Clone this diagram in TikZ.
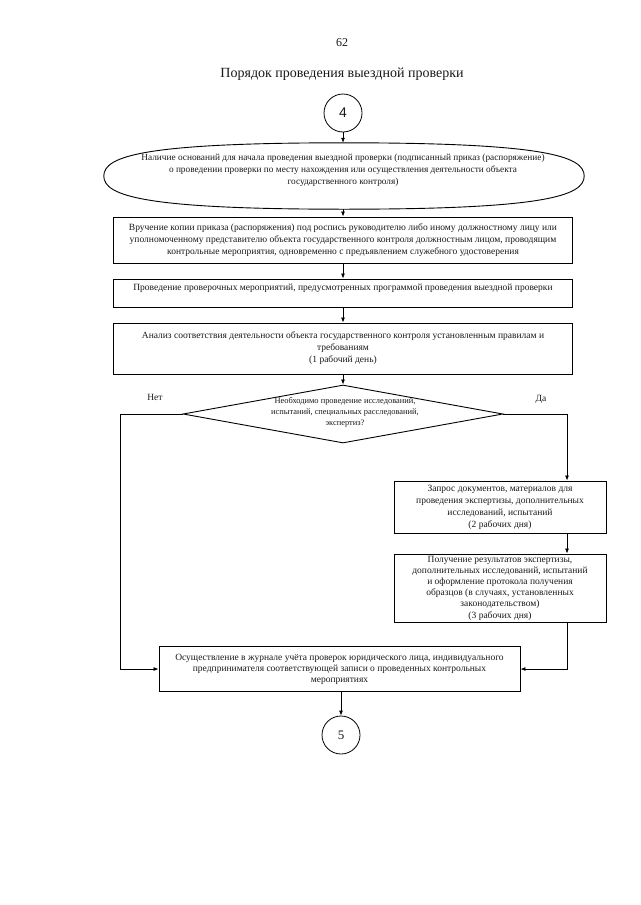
\documentclass[tikz,border=0pt]{standalone}
\usepackage{fontspec}
\setmainfont{Liberation Serif}
\newfontfamily\arialf{Liberation Sans}
\usetikzlibrary{shapes.geometric,arrows.meta}
\begin{document}
\begin{tikzpicture}[x=1pt,y=-1pt,
  every node/.style={text=black!90},
  boxtxt/.style={font=\fontsize{9.5}{12}\selectfont},
  stepbox/.style={draw, rectangle, line width=0.9pt, inner sep=0pt, align=center, boxtxt},
  conn/.style={draw, circle, line width=0.8pt, minimum size=38pt, inner sep=0pt, font=\fontsize{13}{15}\selectfont},
  arr/.style={line width=0.8pt, -{Latex[length=5pt,width=4pt]}},
  ln/.style={line width=0.9pt}]
\useasboundingbox[fill=white] (0,0) rectangle (640,905);

\node[font=\fontsize{12}{14}\selectfont] (pg) at (342,43) {62};
\node[font=\fontsize{14}{16}\selectfont] (title) at (342,74) {Порядок проведения выездной проверки};

\node[conn] (c4) at (343,113) {\arialf\fontsize{14}{16}\selectfont 4};

% oval outline of the first step (pointed ends, full top and bottom)
\node[ellipse, minimum width=480pt, minimum height=66pt, inner sep=0pt] (ell) at (344,176) {};
\draw[ln] (ell.west) .. controls +(0,-20) and +(-200,0) .. (ell.north)
          .. controls +(200,0) and +(0,-20) .. (ell.east)
          .. controls +(0,20) and +(200,0) .. (ell.south)
          .. controls +(-200,0) and +(0,20) .. (ell.west) -- cycle;
\node[align=center, font=\fontsize{9.3}{12}\selectfont] (ellt) at (343,170)
  {Наличие оснований для начала проведения выездной проверки (подписанный приказ (распоряжение)\\
   о проведении проверки по месту нахождения или осуществления деятельности объекта\\
   государственного контроля)};

\node[stepbox, minimum width=459pt, minimum height=46pt] (b2) at (343,240)
  {Вручение копии приказа (распоряжения) под роспись руководителю либо иному должностному лицу или\\
   уполномоченному представителю объекта государственного контроля должностным лицом, проводящим\\
   контрольные мероприятия, одновременно с предъявлением служебного удостоверения};

\node[stepbox, minimum width=459pt, minimum height=28pt] (b3) at (343,293)
  {Проведение проверочных мероприятий, предусмотренных программой проведения выездной проверки\\ \mbox{}};

\node[stepbox, minimum width=459pt, minimum height=51pt] (b4) at (343,348.5)
  {Анализ соответствия деятельности объекта государственного контроля установленным правилам и\\
   требованиям\\
   (1 рабочий день)};

\node[draw, diamond, line width=0.9pt, minimum width=320pt, minimum height=58pt, inner sep=0pt] (d) at (343,414) {};
\node[align=center, font=\fontsize{8.4}{11}\selectfont] (dt) at (345,412)
  {Необходимо проведение исследований,\\
   испытаний, специальных расследований,\\
   экспертиз?};

\node[boxtxt] (no) at (155,397) {Нет};
\node[boxtxt] (yes) at (541,399) {Да};

\node[stepbox, minimum width=212pt, minimum height=52pt] (b6) at (500,507)
  {Запрос документов, материалов для\\
   проведения экспертизы, дополнительных\\
   исследований, испытаний\\
   (2 рабочих дня)};

\node[stepbox, minimum width=212pt, minimum height=68pt, font=\fontsize{9.5}{11.2}\selectfont] (b7) at (500,588)
  {Получение результатов экспертизы,\\
   дополнительных исследований, испытаний\\
   и оформление протокола получения\\
   образцов (в случаях, установленных\\
   законодательством)\\
   (3 рабочих дня)};

\node[stepbox, minimum width=361pt, minimum height=45pt, font=\fontsize{9.5}{11}\selectfont] (b5) at (339.5,669)
  {Осуществление в журнале учёта проверок юридического лица, индивидуального\\
   предпринимателя соответствующей записи о проведенных контрольных\\
   мероприятиях};

\node[conn] (c5) at (341,735) {5};

\coordinate (nl) at (120,414);
\coordinate (nr) at (567,414);

\draw[arr] (c4.south) -- (c4.south |- ell.north);
\draw[arr] (c4.south |- ell.south) -- (c4.south |- b2.north);
\draw[arr] (b2.south) -- (b2.south |- b3.north);
\draw[arr] (b3.south) -- (b3.south |- b4.north);
\draw[arr] (b4.south) -- (b4.south |- d.north);
\draw[arr] (d.west) -- (nl) |- (b5.west);
\draw[arr] (d.east) -- (nr) -- (nr |- b6.north);
\draw[arr] (nr |- b6.south) -- (nr |- b7.north);
\draw[arr] (nr |- b7.south) |- (b5.east);
\draw[arr] (b5.south -| c5.north) -- (c5.north);
\end{tikzpicture}
\end{document}
